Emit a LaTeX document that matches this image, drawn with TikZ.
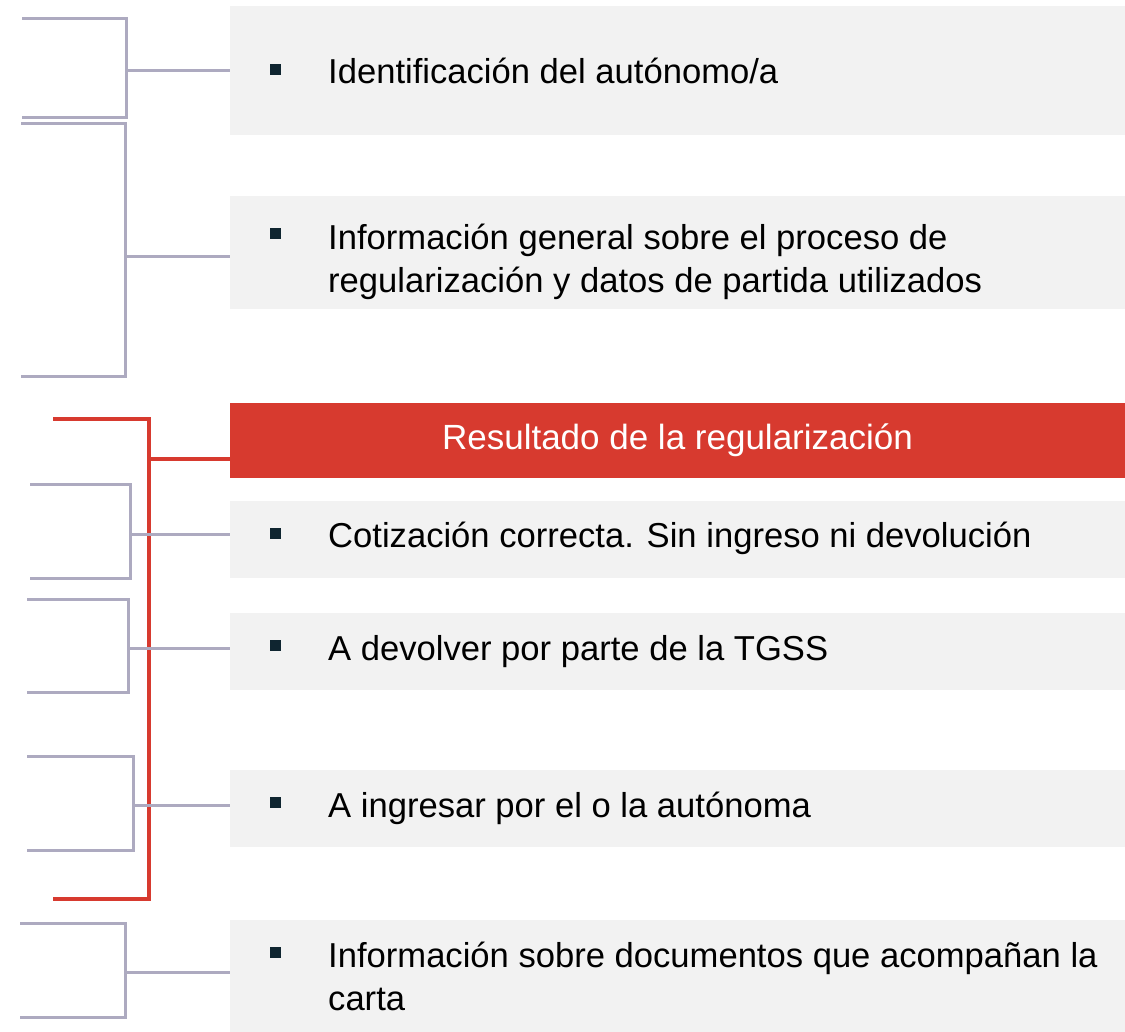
\documentclass[tikz,border=0pt]{standalone}
\usepackage{fontspec}
\setmainfont{Liberation Sans}
\usepackage{xcolor}
\definecolor{panelGray}{HTML}{F2F2F2}
\definecolor{bracketGray}{HTML}{ADAAC0}
\definecolor{accentRed}{HTML}{D73A2F}
\definecolor{bulletDark}{HTML}{0F2530}
\usepackage{tikz}
\usetikzlibrary{
    positioning,
    calc
}
\tikzset{
    % Grey band behind every item
    panel/.style={
        rectangle,
        fill=panelGray,
        minimum width=895pt,
        inner sep=0pt,
    },
    % Red header band
    header/.style={
        panel,
        fill=accentRed,
        text=white,
        font=\fontsize{35}{42}\selectfont,
    },
    % Small square bullet
    bulletbox/.style={
        rectangle,
        fill=bulletDark,
        minimum size=11pt,
        inner sep=0pt,
    },
    % Item text
    item/.style={
        anchor=base west,
        align=left,
        inner sep=0pt,
        text=black,
        font=\fontsize{34.6}{43}\selectfont,
    },
    % Bracket lines on the left
    bracket/.style={
        draw=bracketGray,
        line width=3pt,
    },
    bracket red/.style={
        draw=accentRed,
        line width=3.5pt,
    },
}

\begin{document}
\begin{tikzpicture}[x=1pt, y=-1pt]
    \useasboundingbox (0,0) rectangle (1125,1032);

    % panels
    \node (ident) [panel, minimum height=129pt] at (677.5,70.5) {};
    \node (general) [panel, minimum height=113pt] at (677.5,252.5) {};
    \node (result) [header, minimum height=75pt] at (677.5,440.5) {Resultado de la regularización};
    \node (correct) [panel, minimum height=77pt] at (677.5,539.5) {};
    \node (refund) [panel, minimum height=77pt] at (677.5,651.5) {};
    \node (pay) [panel, minimum height=77pt] at (677.5,808.5) {};
    \node (docs) [panel, minimum height=112pt] at (677.5,976) {};

    % bullets and texts
    \node (identb) [bulletbox] at (275,70) {};
    \node (identt) [item] at (328,84) {Identificación del autónomo/a};
    \node (generalb) [bulletbox] at (275,234) {};
    \node (generalt) [item] at (328,293) {Información general sobre el proceso de\\regularización y datos de partida utilizados};
    \node (correctb) [bulletbox] at (275,533) {};
    \node (correctt) [item] at (328,547) {Cotización correcta. Sin ingreso ni devolución};
    \node (refundb) [bulletbox] at (275,645) {};
    \node (refundt) [item] at (328,660) {A devolver por parte de la TGSS};
    \node (payb) [bulletbox] at (275,802) {};
    \node (payt) [item] at (328,817) {A ingresar por el o la autónoma};
    \node (docsb) [bulletbox] at (275,952) {};
    \node (docst) [item] at (328,1010) {Información sobre documentos que acompañan la\\carta};

    % bracket corners
    \coordinate (ident top) at (22,19);
    \coordinate (ident bot) at (22,118);
    \coordinate (ident mid) at (126,71);
    \coordinate (general top) at (21,124);
    \coordinate (general bot) at (21,377);
    \coordinate (general mid) at (125,257);
    \coordinate (result top) at (53,419);
    \coordinate (result bot) at (53,899);
    \coordinate (result mid) at (149,459);
    \coordinate (correct top) at (30,484);
    \coordinate (correct bot) at (30,578);
    \coordinate (correct mid) at (130,534);
    \coordinate (refund top) at (27,599);
    \coordinate (refund bot) at (27,692);
    \coordinate (refund mid) at (128,648);
    \coordinate (pay top) at (27,756);
    \coordinate (pay bot) at (27,850);
    \coordinate (pay mid) at (133,805);
    \coordinate (docs top) at (20,923);
    \coordinate (docs bot) at (20,1017);
    \coordinate (docs mid) at (125,972);

    % red bracket first, grey ones cross over it
    \draw [bracket red] (result top) -| (result mid |- result bot) -- (result bot);
    \draw [bracket red] (result mid) -- (result mid -| result.west);

    \foreach \n in {ident,general,correct,refund,pay,docs} {
        \draw [bracket] (\n\space top) -| (\n\space mid |- \n\space bot) -- (\n\space bot);
        \draw [bracket] (\n\space mid) -- (\n\space mid -| \n.west);
    }
\end{tikzpicture}
\end{document}
